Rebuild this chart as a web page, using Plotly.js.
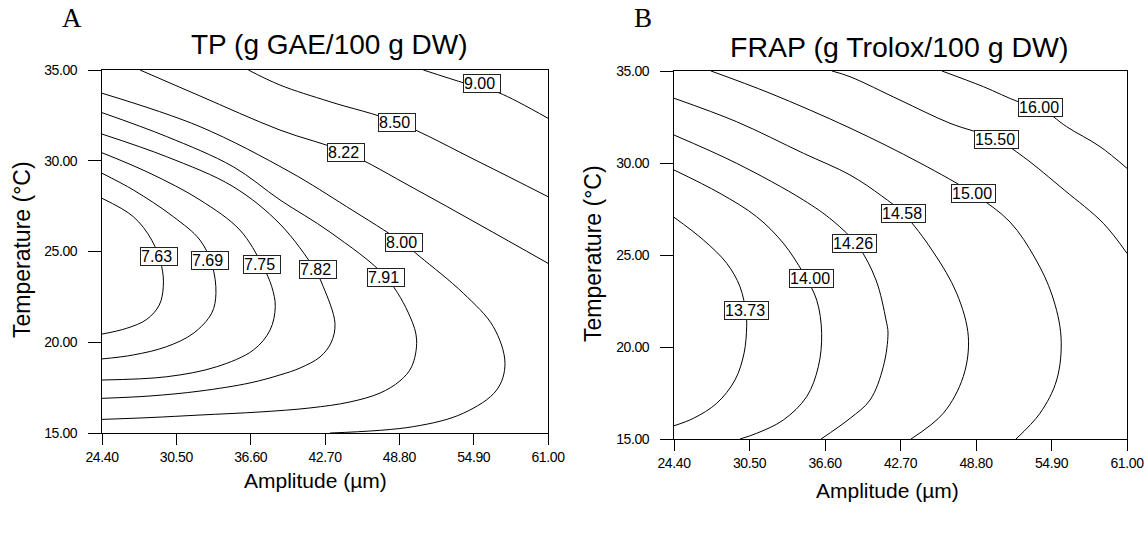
<!DOCTYPE html>
<html><head><meta charset="utf-8">
<script src="https://cdn.plot.ly/plotly-3.0.1.min.js"></script>
<style>
html,body{margin:0;padding:0;background:#fff;}
#chart{width:1148px;height:534px;}
.xtick text,.ytick text,.x2tick text,.y2tick text{letter-spacing:-0.4px;}
</style>
</head><body><div id="chart"></div>
<script>
// ---- shared axes ----
const xTickVals = [24.4, 30.5, 36.6, 42.7, 48.8, 54.9, 61.0];
const xTickText = ['24.40', '30.50', '36.60', '42.70', '48.80', '54.90', '61.00'];
const yTickVals = [15, 20, 25, 30, 35];
const yTickText = ['15.00', '20.00', '25.00', '30.00', '35.00'];

// ---- Panel A: TP (g GAE/100 g DW) contour lines ----
const tpLevels = ['7.63', '7.69', '7.75', '7.82', '7.91', '8.00', '8.22', '8.50', '9.00'];
const tp763X = [24.4, 26.97, 28.48, 29.30, 29.43, 29.10, 28.07, 26.43, 24.4];
const tp763Y = [27.93, 26.92, 25.63, 24.16, 23.06, 22.05, 21.26, 20.77, 20.45];
const tp769X = [24.4, 26.97, 30.25, 32.44, 33.43, 33.75, 33.40, 31.89, 29.71, 26.97, 24.4];
const tp769Y = [29.31, 28.39, 26.92, 25.63, 24.26, 22.70, 21.60, 20.49, 19.76, 19.30, 19.08];
const tp775X = [24.4, 28.34, 32.44, 35.72, 37.55, 38.33, 38.62, 38.19, 36.82, 33.81, 29.71, 24.4];
const tp775Y = [30.44, 29.31, 27.84, 26.18, 24.26, 23.06, 21.96, 20.67, 19.57, 18.65, 18.10, 17.92];
const tp782X = [24.4, 29.71, 35.17, 39.01, 41.85, 42.56, 43.52, 43.19, 42.29, 40.65, 39.01, 36.55, 32.44, 28.34, 24.4];
const tp782Y = [31.47, 30.22, 28.57, 26.51, 24.02, 23.06, 21.04, 19.96, 19.19, 18.58, 18.20, 17.76, 17.31, 17.04, 16.91];
const tp791X = [24.4, 29.71, 35.17, 39.01, 43.11, 47.71, 49.68, 50.22, 49.81, 48.85, 47.21, 44.75, 41.47, 37.37, 32.44, 28.34, 24.4];
const tp791Y = [32.65, 31.33, 29.67, 27.84, 26.07, 23.58, 21.41, 20.12, 18.65, 17.87, 17.20, 16.71, 16.38, 16.16, 15.99, 15.85, 15.75];
const tp800X = [24.4, 32.44, 39.83, 44.48, 49.02, 50.50, 54.05, 56.51, 57.47, 56.79, 54.05, 49.95, 43.11];
const tp800Y = [33.72, 31.88, 29.38, 27.47, 25.51, 24.71, 22.70, 20.86, 18.84, 17.37, 16.09, 15.35, 15.0];
const tp822X = [27.52, 32.44, 39.01, 44.40, 49.95, 55.42, 61.0];
const tp822Y = [35, 33.57, 31.69, 30.47, 28.50, 26.46, 24.35];
const tp850X = [36.41, 39.01, 43.11, 48.63, 55.42, 61.0];
const tp850Y = [35, 34.17, 33.25, 32.12, 29.91, 28.02];
const tp900X = [50.77, 54.19, 55.58, 57.06, 61.0];
const tp900Y = [35, 34.27, 34.01, 33.72, 32.34];
const tpLabelX = [29.04, 33.26, 37.53, 42.13, 47.71, 49.2, 44.40, 48.61, 55.58];
const tpLabelY = [24.72, 24.53, 24.28, 24.01, 23.57, 25.52, 30.47, 32.12, 34.23];

// ---- Panel B: FRAP (g Trolox/100 g DW) contour lines ----
const frLevels = ['13.73', '14.00', '14.26', '14.58', '15.00', '15.50', '16.00'];
const fr1373X = [24.4, 26.77, 28.66, 29.73, 30.22, 30.27, 30.06, 29.33, 27.85, 25.96, 24.4];
const fr1373Y = [27.05, 25.82, 24.55, 23.28, 21.83, 21.10, 19.66, 18.21, 16.94, 16.12, 15.72];
const fr1400X = [24.4, 28.12, 31.08, 33.23, 34.85, 35.93, 36.33, 36.06, 35.12, 33.23, 31.08, 29.73];
const fr1400Y = [29.62, 28.35, 27.08, 25.64, 24.01, 22.55, 20.74, 18.93, 17.30, 16.03, 15.31, 15.0];
const fr1426X = [24.4, 29.47, 34.85, 37.25, 39.27, 40.72, 41.53, 41.69, 41.31, 40.24, 38.62, 36.28];
const fr1426Y = [31.52, 29.98, 27.99, 26.85, 25.49, 23.64, 21.47, 20.76, 18.93, 17.12, 16.12, 15.0];
const fr1458X = [24.4, 29.47, 34.85, 38.62, 41.18, 42.97, 45.35, 47.24, 48.18, 47.77, 46.16, 43.55];
const fr1458Y = [33.52, 32.24, 30.53, 29.35, 28.21, 27.23, 25.16, 22.92, 20.56, 18.39, 16.40, 15.0];
const fr1500X = [27.39, 32.16, 38.62, 44.28, 48.62, 51.55, 53.57, 54.94, 55.67, 55.32, 53.97, 52.03];
const fr1500Y = [35, 33.79, 31.90, 30.0, 28.32, 26.79, 24.83, 22.83, 20.54, 18.21, 16.40, 15.0];
const fr1550X = [37.17, 38.62, 42.66, 46.70, 50.42, 52.62, 55.93, 59.09, 61.0];
const fr1550Y = [35, 34.69, 33.42, 32.16, 31.30, 30.34, 28.53, 26.72, 25.09];
const fr1600X = [46.05, 49.39, 52.22, 54.01, 56.13, 58.82, 61.0];
const fr1600Y = [35, 34.15, 33.33, 32.99, 31.97, 30.89, 29.71];
const frLabelX = [30.27, 35.53, 39.02, 42.97, 48.62, 50.42, 54.01];
const frLabelY = [22.01, 23.73, 25.60, 27.23, 28.32, 31.30, 33.04];

const tpLines = [[tp763X, tp763Y], [tp769X, tp769Y], [tp775X, tp775Y], [tp782X, tp782Y], [tp791X, tp791Y],
                 [tp800X, tp800Y], [tp822X, tp822Y], [tp850X, tp850Y], [tp900X, tp900Y]];
const frLines = [[fr1373X, fr1373Y], [fr1400X, fr1400Y], [fr1426X, fr1426Y], [fr1458X, fr1458Y],
                 [fr1500X, fr1500Y], [fr1550X, fr1550Y], [fr1600X, fr1600Y]];

const FONT = 'Arial, "Liberation Sans", sans-serif';
const SERIF = '"Times New Roman", "Liberation Serif", serif';

const traces = [];
tpLines.forEach((l, i) => traces.push({
  x: l[0], y: l[1], xaxis: 'x', yaxis: 'y', type: 'scatter', mode: 'lines', name: tpLevels[i],
  line: {color: '#000', width: 1, shape: 'spline', smoothing: 1}, hoverinfo: 'skip', showlegend: false
}));
frLines.forEach((l, i) => traces.push({
  x: l[0], y: l[1], xaxis: 'x2', yaxis: 'y2', type: 'scatter', mode: 'lines', name: frLevels[i],
  line: {color: '#000', width: 1, shape: 'spline', smoothing: 1}, hoverinfo: 'skip', showlegend: false
}));

const annotations = [];
tpLevels.forEach((t, i) => annotations.push({
  x: tpLabelX[i], y: tpLabelY[i], xref: 'x', yref: 'y', text: t, showarrow: false,
  font: {family: FONT, size: 16, color: '#000'}, bgcolor: '#fff', bordercolor: '#222', borderwidth: 1,
  borderpad: 0, width: 36, height: 17, align: 'left'
}));
frLevels.forEach((t, i) => annotations.push({
  x: frLabelX[i], y: frLabelY[i], xref: 'x2', yref: 'y2', text: t, showarrow: false,
  font: {family: FONT, size: 16, color: '#000'}, bgcolor: '#fff', bordercolor: '#222', borderwidth: 1,
  borderpad: 0, width: 43, height: 17, align: 'left'
}));
function txt(text, x, y, size, family, angle) {
  annotations.push({text: text, x: x, y: y, xref: 'paper', yref: 'paper', showarrow: false,
    xanchor: 'center', yanchor: 'middle', textangle: angle || 0, font: {family: family, size: size, color: '#000'}});
}
txt('A', 72 / 1148, 1 - 18 / 534, 27, SERIF);
txt('B', 643 / 1148, 1 - 18 / 534, 27, SERIF);
txt('TP (g GAE/100 g DW)', 329 / 1148, 1 - 45 / 534, 28, FONT);
txt('FRAP (g Trolox/100 g DW)', 899 / 1148, 1 - 47 / 534, 28.5, FONT);
txt('Amplitude (µm)', 315 / 1148, 1 - 480 / 534, 21, FONT);
txt('Amplitude (µm)', 887 / 1148, 1 - 490 / 534, 21, FONT);
txt('Temperature (°C)', 22 / 1148, 1 - 250 / 534, 23, FONT, -90);
txt('Temperature (°C)', 593 / 1148, 1 - 254 / 534, 23, FONT, -90);

function xax(dom, anchor) {
  return {domain: dom, anchor: anchor, range: [24.4, 61.0], tickvals: xTickVals, ticktext: xTickText,
    ticks: 'outside', ticklen: 11, tickcolor: '#000', tickwidth: 1, showline: true, linecolor: '#000', linewidth: 1,
    mirror: true, showgrid: false, zeroline: false, tickfont: {family: FONT, size: 14, color: '#000'}, ticklabelstandoff: 0};
}
function yax(dom, anchor) {
  return {domain: dom, anchor: anchor, range: [15, 35], tickvals: yTickVals, ticktext: yTickText,
    ticks: 'outside', ticklen: 13, tickcolor: '#000', tickwidth: 1, showline: true, linecolor: '#000', linewidth: 1,
    mirror: true, showgrid: false, zeroline: false, tickfont: {family: FONT, size: 14, color: '#000'}, ticklabelstandoff: 8};
}

const layout = {
  width: 1148, height: 534, margin: {l: 0, r: 0, t: 0, b: 0}, paper_bgcolor: '#fff', plot_bgcolor: '#fff',
  showlegend: false,
  xaxis: xax([102 / 1148, 548 / 1148], 'y'),
  yaxis: yax([1 - 433 / 534, 1 - 70 / 534], 'x'),
  xaxis2: xax([674 / 1148, 1127 / 1148], 'y2'),
  yaxis2: yax([1 - 439 / 534, 1 - 71 / 534], 'x2'),
  annotations: annotations
};
Plotly.newPlot('chart', traces, layout, {staticPlot: true, displayModeBar: false});
</script></body></html>
